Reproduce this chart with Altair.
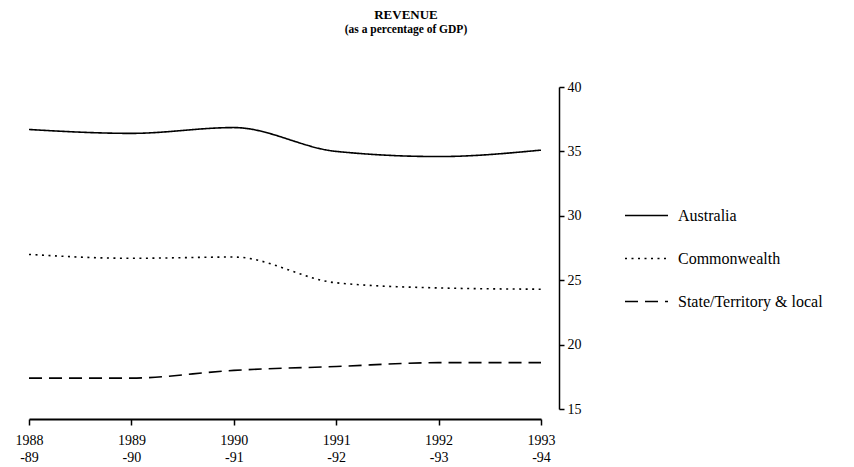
import json
import altair as alt
import pandas as pd

# ---- data ----
year_start = ["1988", "1989", "1990", "1991", "1992", "1993"]
year_end = ["-89", "-90", "-91", "-92", "-93", "-94"]
australia = [36.7, 36.4, 36.85, 35.0, 34.6, 35.1]
commonwealth = [27.0, 26.7, 26.8, 24.8, 24.4, 24.3]
state_local = [17.4, 17.4, 18.0, 18.3, 18.6, 18.6]
series_names = ["Australia", "Commonwealth", "State/Territory & local"]
y_ticks = [15, 20, 25, 30, 35, 40]

rows = []
for name, vals in zip(series_names, [australia, commonwealth, state_local]):
    for i, v in enumerate(vals):
        rows.append({"idx": i, "series": name, "value": v})
df = pd.DataFrame(rows)

label_pairs = [[a, b] for a, b in zip(year_start, year_end)]
label_expr = json.dumps(label_pairs) + "[datum.value]"

FONT = "Liberation Serif"

chart = (
    alt.Chart(df)
    .mark_line(color="black", strokeWidth=1.6, interpolate="monotone")
    .encode(
        x=alt.X(
            "idx:Q",
            scale=alt.Scale(domain=[0, 5], nice=False, zero=False),
            axis=alt.Axis(
                title=None,
                values=list(range(len(year_start))),
                labelExpr=label_expr,
                grid=False,
                offset=10,
                domainColor="black",
                domainWidth=2,
                tickColor="black",
                tickWidth=1.5,
                tickSize=6,
                labelPadding=8,
                labelFont=FONT,
                labelFontSize=14,
                labelColor="black",
                labelLineHeight=17,
                labelFlush=False,
            ),
        ),
        y=alt.Y(
            "value:Q",
            scale=alt.Scale(domain=[15, 40], nice=False, zero=False),
            axis=alt.Axis(
                title=None,
                orient="right",
                values=y_ticks,
                grid=False,
                offset=18,
                domainColor="black",
                domainWidth=1.5,
                tickColor="black",
                tickWidth=1.5,
                tickSize=5,
                labelPadding=3,
                labelFont=FONT,
                labelFontSize=14,
                labelColor="black",
            ),
        ),
        strokeDash=alt.StrokeDash(
            "series:N",
            sort=series_names,
            scale=alt.Scale(domain=series_names, range=[[1, 0], [2, 4.5], [13, 7]]),
            legend=alt.Legend(
                title=None,
                orient="none",
                legendX=595,
                legendY=106,
                symbolType="stroke",
                symbolSize=1849,
                symbolStrokeColor="black",
                symbolStrokeWidth=1.5,
                rowPadding=12,
                labelOffset=9,
                labelFont=FONT,
                labelFontSize=16,
                labelColor="black",
                labelLimit=300,
            ),
        ),
    )
    .properties(
        width=512,
        height=322,
        background="white",
        padding={"left": 21, "top": 79, "right": 300, "bottom": 58},
        autosize=alt.AutoSizeParams(type="none"),
        title=alt.TitleParams(
            text="REVENUE",
            subtitle="(as a percentage of GDP)",
            font=FONT,
            fontSize=13,
            fontWeight="bold",
            subtitleFont=FONT,
            subtitleFontSize=11.5,
            subtitleFontWeight="bold",
            subtitleColor="black",
            subtitlePadding=2,
            color="black",
            anchor="middle",
            dx=121,
            offset=45,
        ),
    )
    .configure_view(stroke="transparent", strokeWidth=0)
)

chart.save("out.html", embed_options={"renderer": "svg", "actions": False})
